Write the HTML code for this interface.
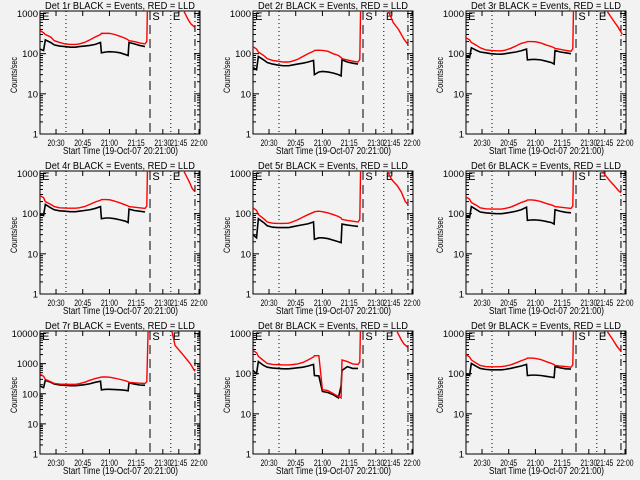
<!DOCTYPE html>
<html><head><meta charset="utf-8"><style>
html,body{margin:0;padding:0;background:#f2f2f2;}
svg{display:block;font-family:"Liberation Sans",sans-serif;}
</style></head><body>
<svg id="chart" width="640" height="480" viewBox="0 0 640 480"></svg>
<script>
// shared sample times (minutes after 20:21:00)
const times = [0,2,3,6,8,11,14,17,20,22,25,28,31,34,34.5,37,39,42,45,48,49.5,50,53,56,59];
const tickMinutes = [9,24,39,54,69,84,99];
const tickLabels = ["20:30","20:45","21:00","21:15","21:30","21:45","22:00"];
const markerMinutes = [14.6,61.8,76.5,96];
const detNames = ["1r","2r","3r","4r","5r","6r","7r","8r","9r"];
const decades = [3,3,3,3,3,3,4,3,3];
const black1 = [130,120,220,190,165,155,150,145,145,150,155,160,170,190,105,110,112,110,105,95,90,190,175,160,150];
const red1 = [380,330,300,260,210,190,175,170,170,175,190,220,260,300,320,320,320,300,270,240,220,210,200,185,175];
const black2 = [45,40,85,70,60,55,52,50,50,52,55,58,62,68,30,35,36,35,33,30,28,70,62,58,55];
const red2 = [150,130,110,90,75,68,65,62,62,65,72,85,100,115,120,122,120,115,100,90,80,75,70,65,62];
const black3 = [90,80,140,120,110,105,100,98,97,100,105,110,118,130,70,72,72,70,65,60,55,120,110,105,100];
const red3 = [250,220,190,160,140,125,120,118,118,122,135,155,180,195,200,200,198,185,165,150,140,135,128,120,115];
const black4 = [100,90,170,140,125,118,115,112,112,115,120,125,135,150,75,78,78,75,70,65,60,130,120,115,110];
const red4 = [280,250,200,170,150,140,138,137,137,140,150,170,195,215,225,225,222,205,185,165,155,150,145,140,135];
const black5 = [30,25,75,60,50,46,45,45,45,47,50,53,56,62,23,25,25,24,22,20,19,55,52,50,48];
const red5 = [140,120,95,75,62,58,57,57,58,62,70,82,95,108,112,115,112,105,95,85,78,72,68,65,62];
const black6 = [90,80,150,125,110,105,102,100,100,103,108,115,125,145,68,70,70,68,64,60,55,125,115,108,105];
const red6 = [260,230,190,160,140,132,130,130,130,135,145,165,190,210,220,220,215,200,180,165,155,150,145,140,135];
const black7 = [180,160,280,240,210,195,190,185,185,190,200,215,240,260,135,140,140,138,135,130,125,230,210,195,190];
const red7 = [450,380,300,250,220,210,205,205,205,215,240,280,320,350,360,360,355,330,300,270,250,240,230,225,220];
const black8 = [120,100,200,160,145,138,135,132,132,135,140,145,155,170,90,88,36,34,30,25,50,120,150,135,135];
const red8 = [380,330,270,210,180,170,168,165,165,168,175,190,220,260,280,280,40,38,32,27,25,220,200,175,170];
const black9 = [100,90,180,150,135,128,125,125,125,128,135,145,155,170,90,92,92,90,86,82,80,150,140,132,130];
const red9 = [300,260,220,180,160,150,148,148,150,155,165,185,210,235,245,245,240,225,200,180,168,160,155,150,145];
const postT1=[88,91,93,96], postV1=[1100,700,550,450];
const postT2=[81,85,89,93,96], postV2=[1100,600,400,230,170];
const postT3=[86,90,94,97], postV3=[1100,700,450,300];
const postT4=[88,92,94,96], postV4=[1100,600,420,350];
const postT5=[80,84,88,91,94,96], postV5=[1100,700,500,350,200,170];
const postT6=[82,87,91,94,96], postV6=[1100,700,500,380,330];
const postT7=[77.5,80.5,87,92.5,96], postV7=[12000,4000,2000,1000,550];
const postT8=[88,91,93,96], postV8=[1100,700,550,450];
const postT9=[86,90,93,96], postV9=[1100,700,480,360];

const blacks=[black1,black2,black3,black4,black5,black6,black7,black8,black9];
const reds=[red1,red2,red3,red4,red5,red6,red7,red8,red9];
const postTs=[postT1,postT2,postT3,postT4,postT5,postT6,postT7,postT8,postT9];
const postVs=[postV1,postV2,postV3,postV4,postV5,postV6,postV7,postV8,postV9];

const NS="http://www.w3.org/2000/svg";
const svg=document.getElementById('chart');
const L=40,R=200,T=11,B=134;
function xs(m){
  if(m<=69) return L+m*1.78;
  if(m<=84) return 162.8+(m-69)*16/15;
  return 178.8+(m-84)*20.2/15;
}
function mk(tag,attrs,parent){const e=document.createElementNS(NS,tag);for(const k in attrs)e.setAttribute(k,attrs[k]);parent.appendChild(e);return e;}

for(let p=0;p<9;p++){
  const ox=(p%3)*213, oy=Math.floor(p/3)*160;
  const nd=decades[p];
  const bot=134, decPx=(bot-13.5)/nd;
  const ys=v=>bot-Math.log10(v)*decPx;
  const g=mk('g',{transform:`translate(${ox},${oy})`},svg);
  
  
  const cp=mk('clipPath',{id:'cp'+p},g);
  mk('rect',{x:L,y:T,width:R-L,height:B-T},cp);
  const title=mk('text',{x:45,y:9,'font-size':10,fill:'#000',textLength:150,lengthAdjust:'spacingAndGlyphs'},g);
  title.textContent='Det '+detNames[p]+' BLACK = Events, RED = LLD';
  
  
  const frame=mk('rect',{x:L,y:T,width:R-L,height:B-T,fill:'none',stroke:'#000','stroke-width':1},g);
  
  
  for(let d=0;d<=nd;d++){
    const y=ys(Math.pow(10,d));
    mk('line',{x1:L,x2:L+6,y1:y,y2:y,stroke:'#000'},g);
    mk('line',{x1:R-6,x2:R,y1:y,y2:y,stroke:'#000'},g);
    const lab=mk('text',{x:38,y:y+3.5,'text-anchor':'end','font-size':9.5,fill:'#000'},g);
    lab.textContent=String(Math.pow(10,d));
    
    
    if(d<nd){for(let k=2;k<10;k++){const yy=ys(k*Math.pow(10,d));
      mk('line',{x1:L,x2:L+3,y1:yy,y2:yy,stroke:'#000'},g);
      mk('line',{x1:R-3,x2:R,y1:yy,y2:yy,stroke:'#000'},g);}}
  }
  const yt=mk('text',{x:-18,y:0,'font-size':9,fill:'#000',transform:'translate(17,75) rotate(-90)',textLength:36,lengthAdjust:'spacingAndGlyphs'},g);
  yt.textContent='Counts/sec';
  
  
  tickMinutes.forEach((m,i)=>{
    const x=xs(m);
    mk('line',{x1:x,x2:x,y1:B,y2:B-5,stroke:'#000'},g);
    mk('line',{x1:x,x2:x,y1:T,y2:T+5,stroke:'#000'},g);
    const cx=Math.min(x,199);
    const lab=mk('text',{x:cx-8.5,y:146,'font-size':9.5,fill:'#000',textLength:17,lengthAdjust:'spacingAndGlyphs'},g);
    lab.textContent=tickLabels[i];
    
    
  });
  const xt=mk('text',{x:63,y:154,'font-size':10,fill:'#000',textLength:115,lengthAdjust:'spacingAndGlyphs'},g);
  xt.textContent='Start Time (19-Oct-07 20:21:00)';
  
  
  const dashes=['1,3','9,5','1,3','7,3,1,3'];
  markerMinutes.forEach((m,i)=>{
    const x=xs(m);
    const ln=mk('line',{x1:x,x2:x,y1:T,y2:B,stroke:'#000','stroke-dasharray':dashes[i],'stroke-width':1},g);
    
    
  });
  [['E',0.6],['S',markerMinutes[1]+0.8],['E',markerMinutes[2]+1]].forEach(([s,m])=>{
    const t=mk('text',{x:xs(m)+1,y:T+9,'font-size':11,fill:'#000'},g);
    t.textContent=s;
    
    
  });
  const pg=mk('g',{'clip-path':`url(#cp${p})`},g);
  const bl=mk('polyline',{points:times.map((t,i)=>xs(t)+','+ys(blacks[p][i])).join(' '),fill:'none',stroke:'#000','stroke-width':1.6},pg);
  
  
  const rt=times.concat([60,61]);
  const rv=reds[p].concat([reds[p][reds[p].length-1]*1.15,50000]);
  const rl=mk('polyline',{points:rt.map((t,i)=>xs(t)+','+ys(rv[i])).join(' '),fill:'none',stroke:'#f00','stroke-width':1.4},pg);
  
  
  const pl=mk('polyline',{points:postTs[p].map((t,i)=>xs(t)+','+ys(postVs[p][i])).join(' '),fill:'none',stroke:'#f00','stroke-width':1.4},pg);
  
  
}
</script>
</body></html>
